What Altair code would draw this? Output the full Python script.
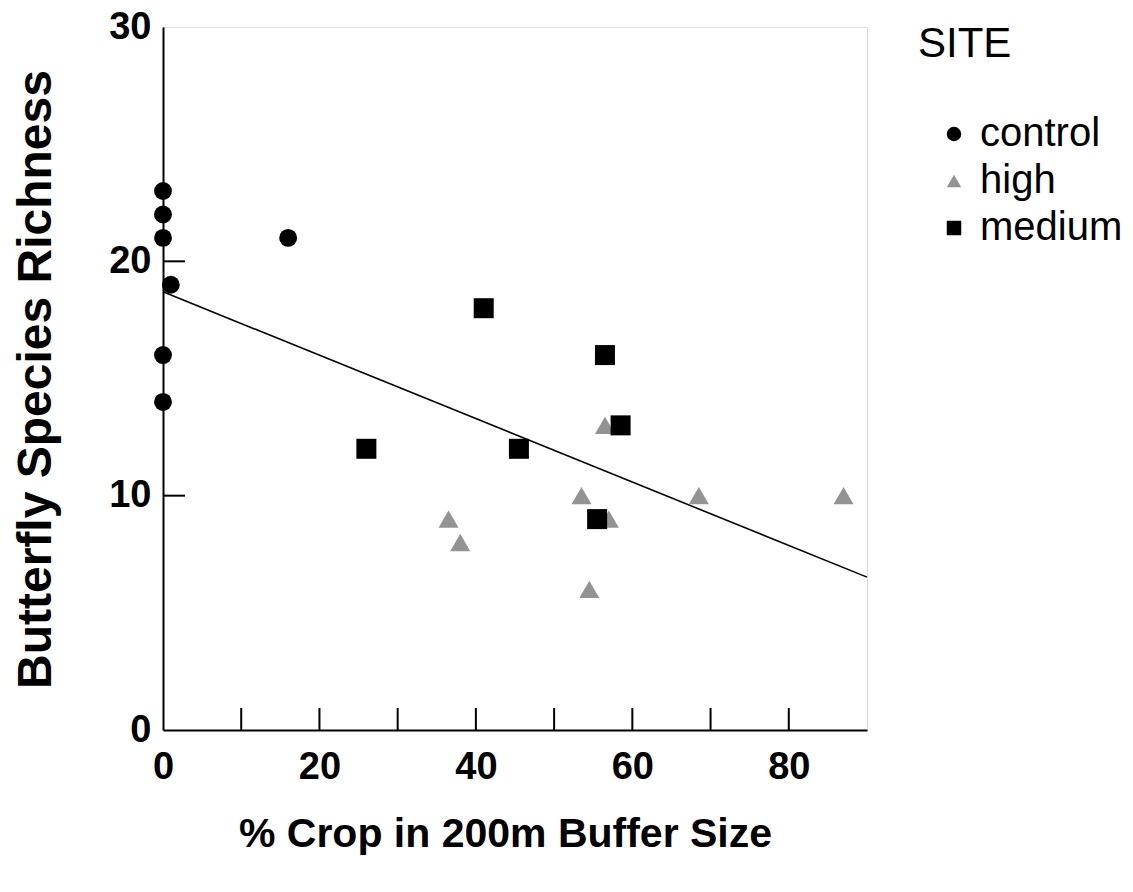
import altair as alt
import pandas as pd

# ---- data ----
control_x = [0, 0, 0, 0, 0, 16, 1]
control_y = [23, 22, 21, 16, 14, 21, 19]
medium_x = [41, 56.5, 58.5, 45.5, 26, 55.5]
medium_y = [18, 16, 13, 12, 12, 9]
high_x = [36.5, 38, 53.5, 54.5, 56.5, 57, 68.5, 87]
high_y = [9, 8, 10, 6, 13, 9, 10, 10]
sites = ["control", "high", "medium"]
x_inner_ticks = [10, 20, 30, 40, 50, 60, 70, 80]
y_inner_ticks = [10, 20]
x_labels = [0, 20, 40, 60, 80]
y_labels = [0, 10, 20, 30]

rows = []
for xs, ys, s in [(control_x, control_y, "control"), (high_x, high_y, "high"), (medium_x, medium_y, "medium")]:
    for a, b in zip(xs, ys):
        rows.append({"crop": a, "rich": b, "SITE": s})
df = pd.DataFrame(rows)

W, H = 704, 703
FONT = "Liberation Sans"

xscale = alt.Scale(domain=[0, 90], nice=False, zero=False)
yscale = alt.Scale(domain=[0, 30], nice=False, zero=False)

xaxis = alt.Axis(values=x_labels, title="% Crop in 200m Buffer Size", tickSize=0, grid=False,
                 labelFlush=False, labelOverlap=False,
                 labelFont=FONT, labelFontSize=38, labelFontWeight="bold", labelColor="black",
                 labelPadding=18, domainColor="black", domainWidth=2,
                 titleFont=FONT, titleFontSize=41, titleFontWeight="bold", titleColor="black",
                 titleX=342, titleY=116, titleBaseline="alphabetic", titleAlign="center", titleAnchor="middle")
yaxis = alt.Axis(values=y_labels, title="Butterfly Species Richness", tickSize=0, grid=False,
                 labelFlush=False, labelOverlap=False,
                 labelFont=FONT, labelFontSize=38, labelFontWeight="bold", labelColor="black",
                 labelPadding=12, domainColor="black", domainWidth=2,
                 titleFont=FONT, titleFontSize=48, titleFontWeight="bold", titleColor="black",
                 titleX=-113, titleY=352, titleAngle=-90, titleBaseline="alphabetic",
                 titleAlign="center", titleAnchor="middle")

legend = alt.Legend(title="SITE", orient="none", legendX=755, legendY=-3,
                    titleFont=FONT, titleFontSize=42, titleFontWeight="normal",
                    titleColor="black", titlePadding=48, titleBaseline="top",
                    labelFont=FONT, labelFontSize=40, labelColor="black",
                    labelOffset=6, symbolOffset=16, symbolSize=210,
                    symbolStrokeWidth=0, rowPadding=7, padding=0)

shape_scale = alt.Scale(domain=sites, range=["circle", "triangle-up", "square"])
color_scale = alt.Scale(domain=sites, range=["black", "#939393", "black"])
sizes = {"control": 320, "high": 400, "medium": 400}

def point_layer(site):
    return alt.Chart(df).transform_filter(alt.datum.SITE == site).mark_point(
        filled=True, opacity=1, strokeWidth=0, size=sizes[site]).encode(
        x=alt.X("crop:Q", scale=xscale, axis=xaxis),
        y=alt.Y("rich:Q", scale=yscale, axis=yaxis),
        shape=alt.Shape("SITE:N", scale=shape_scale, legend=legend),
        color=alt.Color("SITE:N", scale=color_scale, legend=legend),
    )

reg = alt.Chart(df).transform_regression("crop", "rich", extent=[0, 90]).mark_line(
    color="black", strokeWidth=1.6).encode(
    x=alt.X("crop:Q", scale=xscale),
    y=alt.Y("rich:Q", scale=yscale),
)

xt = alt.Chart(pd.DataFrame({"t": x_inner_ticks})).mark_rule(color="black", strokeWidth=2).encode(
    x=alt.X("t:Q", scale=xscale),
    y=alt.value(H),
    y2=alt.value(H - 22),
)
yt = alt.Chart(pd.DataFrame({"t": y_inner_ticks})).mark_rule(color="black", strokeWidth=2).encode(
    y=alt.Y("t:Q", scale=yscale),
    x=alt.value(0),
    x2=alt.value(22),
)

chart = alt.layer(reg, xt, yt, point_layer("control"), point_layer("high"), point_layer("medium")).properties(
    width=W, height=H,
    autosize=alt.AutoSizeParams(type="none"),
    padding={"left": 163, "top": 27, "right": 266, "bottom": 162},
).configure_view(stroke="black", strokeWidth=2).configure(background="white")

chart.save("out.html", embed_options={"renderer": "svg", "actions": False})
